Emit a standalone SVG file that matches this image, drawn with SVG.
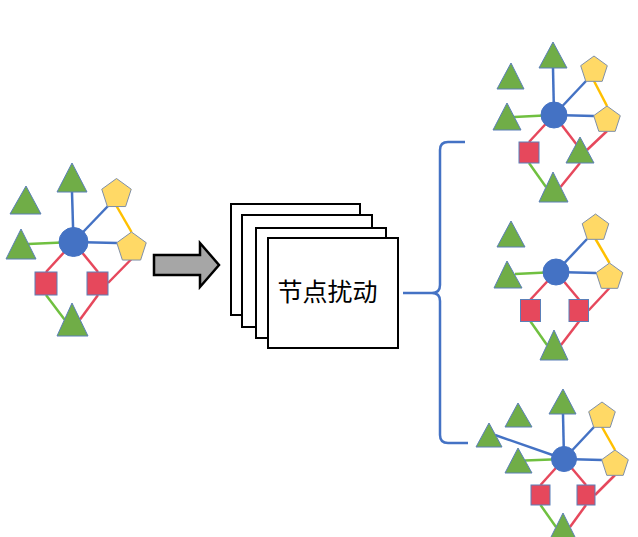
<svg xmlns="http://www.w3.org/2000/svg" xmlns:xlink="http://www.w3.org/1999/xlink" width="638" height="537" viewBox="0 0 638 537">
<style>
.tri{fill:#70ad47;stroke:#5b7fb8;stroke-width:1}
.pent{fill:#ffd966;stroke:#7f8fa8;stroke-width:1}
.sq{fill:#e6485c;stroke:#5b7fb8;stroke-width:1}
.hub{fill:#4472c4;stroke:#4472c4;stroke-width:1}
.eb{stroke:#4472c4;stroke-width:2.5;fill:none}
.eg{stroke:#70c040;stroke-width:2.5;fill:none}
.er{stroke:#e6485c;stroke-width:2.5;fill:none}
.ey{stroke:#ffc000;stroke-width:2.5;fill:none}
.box{fill:#ffffff;stroke:#000000;stroke-width:2}
.lbl{font-family:"Noto Sans CJK SC","Noto Sans",sans-serif;font-size:25px;fill:#000000}
</style>
<defs>
<polygon id="pentL" points="0,-15.5 14.74,-4.79 9.11,12.54 -9.11,12.54 -14.74,-4.79"/>
<polygon id="pentS" points="0,-14 13.31,-4.33 8.23,11.33 -8.23,11.33 -13.31,-4.33"/>
</defs>
<rect width="638" height="537" fill="#ffffff"/>

<g id="connectors">
<!-- left graph -->
<line class="eb" x1="72" y1="192" x2="73.5" y2="242"/>
<line class="eb" x1="73.5" y1="242" x2="108" y2="206"/>
<line class="eb" x1="73.5" y1="242" x2="117" y2="243"/>
<line class="ey" x1="116.5" y1="206" x2="131.5" y2="232"/>
<line class="eg" x1="28" y1="244" x2="73.5" y2="242"/>
<line class="er" x1="46" y1="272" x2="73.5" y2="242"/>
<line class="er" x1="98" y1="272" x2="73.5" y2="242"/>
<line class="er" x1="131.5" y1="259" x2="108" y2="283"/>
<line class="eg" x1="46" y1="295" x2="64.5" y2="319.5"/>
<line class="er" x1="98" y1="295" x2="80" y2="319.5"/>
<!-- top-right graph -->
<line class="eb" x1="553" y1="68" x2="554" y2="115"/>
<line class="eb" x1="554" y1="115" x2="586" y2="81"/>
<line class="eb" x1="554" y1="115" x2="594" y2="116"/>
<line class="ey" x1="594" y1="81" x2="607" y2="106"/>
<line class="eg" x1="514" y1="117" x2="554" y2="115"/>
<line class="er" x1="529" y1="142" x2="554" y2="115"/>
<line class="er" x1="554" y1="115" x2="577" y2="145"/>
<line class="er" x1="607" y1="131" x2="587" y2="150"/>
<line class="eg" x1="529" y1="163" x2="546" y2="187"/>
<line class="er" x1="580" y1="163" x2="560.5" y2="187"/>
<!-- middle-right graph -->
<line class="eb" x1="556" y1="272" x2="587" y2="239"/>
<line class="eb" x1="556" y1="272" x2="596" y2="273"/>
<line class="ey" x1="595.5" y1="239" x2="609.5" y2="263"/>
<line class="eg" x1="515" y1="274" x2="556" y2="272"/>
<line class="er" x1="530.5" y1="299.5" x2="556" y2="272"/>
<line class="er" x1="579" y1="299.5" x2="556" y2="272"/>
<line class="er" x1="609.5" y1="288" x2="588.5" y2="310.5"/>
<line class="eg" x1="530.5" y1="321.5" x2="547" y2="345"/>
<line class="er" x1="579" y1="321.5" x2="561" y2="345"/>
<!-- bottom-right graph -->
<line class="eb" x1="563" y1="414" x2="564" y2="459"/>
<line class="eb" x1="495" y1="435" x2="564" y2="459"/>
<line class="eb" x1="564" y1="459" x2="594" y2="427"/>
<line class="eb" x1="564" y1="459" x2="602" y2="460"/>
<line class="ey" x1="602" y1="427" x2="615" y2="450"/>
<line class="eg" x1="525" y1="460.5" x2="564" y2="459"/>
<line class="er" x1="540.5" y1="485" x2="564" y2="459"/>
<line class="er" x1="586" y1="485" x2="564" y2="459"/>
<line class="er" x1="615" y1="475" x2="595" y2="495"/>
<line class="eg" x1="540.5" y1="505" x2="556" y2="527"/>
<line class="er" x1="586" y1="505" x2="570" y2="527"/>
<!-- brace -->
<path class="eb" d="M465,142 L448,142 Q440,142 440,150 L440,285 Q440,293 432,293 L403,293 M432,293 Q440,293 440,301 L440,435 Q440,443 448,443 L468,443"/>
</g>

<!-- left graph nodes -->
<g id="g0-hub"><circle class="hub" cx="73.5" cy="242" r="14.5"/></g>
<g id="g0-tri-top"><polygon class="tri" points="72,163 57,192 87,192"/></g>
<g id="g0-tri-ul"><polygon class="tri" points="26,186 10,214 41,214"/></g>
<g id="g0-tri-l"><polygon class="tri" points="21,229 6,259 36,259"/></g>
<g id="g0-pent-top"><use xlink:href="#pentL" href="#pentL" class="pent" x="116.5" y="194"/></g>
<g id="g0-pent-r"><use xlink:href="#pentL" href="#pentL" class="pent" x="131.5" y="247.5"/></g>
<g id="g0-sq-l"><rect class="sq" x="35" y="272" width="22" height="23"/></g>
<g id="g0-sq-r"><rect class="sq" x="87" y="272" width="21" height="23"/></g>
<g id="g0-tri-bot"><polygon class="tri" points="72,303 57,336 88,336"/></g>

<!-- arrow -->
<g id="arrow"><polygon points="154,255 200,255 200,243 219,265 200,287 200,275 154,275" fill="#a6a6a6" stroke="#000000" stroke-width="2.5" stroke-linejoin="miter"/></g>

<!-- stacked boxes -->
<g id="perturb">
<rect class="box" x="231" y="204" width="129" height="111"/>
<rect class="box" x="242" y="215" width="130" height="112"/>
<rect class="box" x="256" y="228" width="130" height="110"/>
<rect class="box" x="268" y="238" width="130" height="110"/>
<text class="lbl" x="327.5" y="301" text-anchor="middle">节点扰动</text>
</g>

<!-- top-right graph nodes -->
<g id="g1-hub"><circle class="hub" cx="554" cy="115" r="13"/></g>
<g id="g1-tri-top"><polygon class="tri" points="553,42 539,68 567,68"/></g>
<g id="g1-tri-ul"><polygon class="tri" points="511,63 497,89 524,89"/></g>
<g id="g1-tri-l"><polygon class="tri" points="507,103 493,130 521,130"/></g>
<g id="g1-pent-top"><use xlink:href="#pentS" href="#pentS" class="pent" x="594" y="70"/></g>
<g id="g1-pent-r"><use xlink:href="#pentS" href="#pentS" class="pent" x="607" y="120"/></g>
<g id="g1-sq-l"><rect class="sq" x="519" y="142" width="20" height="21"/></g>
<g id="g1-tri-mid"><polygon class="tri" points="580,137 566,163 594,163"/></g>
<g id="g1-tri-bot"><polygon class="tri" points="553,172 539,202 568,202"/></g>

<!-- middle-right graph nodes -->
<g id="g2-hub"><circle class="hub" cx="556" cy="272" r="13"/></g>
<g id="g2-tri-ul"><polygon class="tri" points="511,221 497,247 525,247"/></g>
<g id="g2-tri-l"><polygon class="tri" points="507,261 494,288 522,288"/></g>
<g id="g2-pent-top"><use xlink:href="#pentS" href="#pentS" class="pent" x="595.5" y="228"/></g>
<g id="g2-pent-r"><use xlink:href="#pentS" href="#pentS" class="pent" x="609.5" y="277"/></g>
<g id="g2-sq-l"><rect class="sq" x="520.5" y="299.5" width="20" height="22"/></g>
<g id="g2-sq-r"><rect class="sq" x="569" y="299.5" width="19.5" height="22"/></g>
<g id="g2-tri-bot"><polygon class="tri" points="554,330 540,360 568,360"/></g>

<!-- bottom-right graph nodes -->
<g id="g3-hub"><circle class="hub" cx="564" cy="459" r="12.5"/></g>
<g id="g3-tri-top"><polygon class="tri" points="563,389 549,414 576,414"/></g>
<g id="g3-tri-ul"><polygon class="tri" points="518,403 505,427 532,427"/></g>
<g id="g3-tri-far"><polygon class="tri" points="489,423 476,447 502,447"/></g>
<g id="g3-tri-l"><polygon class="tri" points="518,448 505,473 532,473"/></g>
<g id="g3-pent-top"><use xlink:href="#pentS" href="#pentS" class="pent" x="602" y="416"/></g>
<g id="g3-pent-r"><use xlink:href="#pentS" href="#pentS" class="pent" x="615" y="464"/></g>
<g id="g3-sq-l"><rect class="sq" x="531" y="485" width="19" height="20"/></g>
<g id="g3-sq-r"><rect class="sq" x="577" y="485" width="18" height="20"/></g>
<g id="g3-tri-bot"><polygon class="tri" points="563,513 549,541 577,541"/></g>
</svg>
